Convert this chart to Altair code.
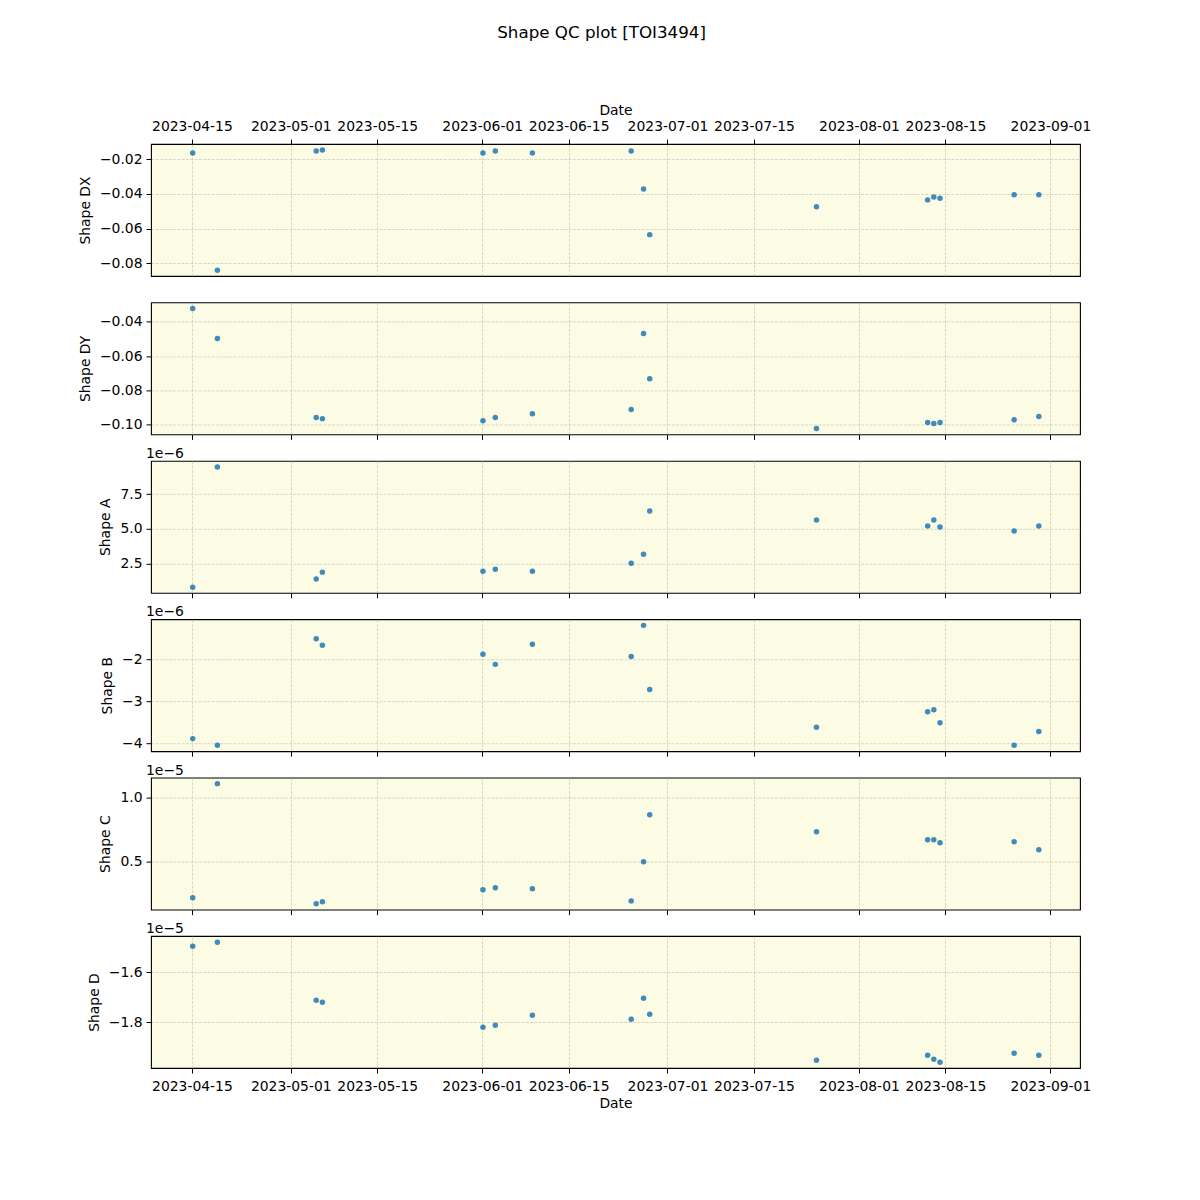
import altair as alt
import pandas as pd

# Observation dates (UTC)
dates = ["2023-04-15T03:00:00Z", "2023-04-19T03:00:00Z", "2023-05-05T03:00:00Z", "2023-05-06T03:00:00Z",
         "2023-06-01T03:00:00Z", "2023-06-03T03:00:00Z", "2023-06-09T03:00:00Z", "2023-06-25T03:00:00Z",
         "2023-06-27T03:00:00Z", "2023-06-28T03:00:00Z", "2023-07-25T03:00:00Z", "2023-08-12T03:00:00Z",
         "2023-08-13T03:00:00Z", "2023-08-14T03:00:00Z", "2023-08-26T03:00:00Z", "2023-08-30T03:00:00Z"]

shape_dx = [-0.0165, -0.0840, -0.0154, -0.0148, -0.0165, -0.0154, -0.0165, -0.0154,
            -0.0373, -0.0635, -0.0475, -0.0435, -0.0419, -0.0425, -0.0406, -0.0406]
shape_dy = [-0.0322, -0.0497, -0.0959, -0.0965, -0.0977, -0.0959, -0.0936, -0.0912,
            -0.0468, -0.0732, -0.1023, -0.0988, -0.0994, -0.0988, -0.0971, -0.0953]
# Shape A in units of 1e-6
shape_a = [0.83, 9.43, 1.41, 1.91, 1.98, 2.12, 1.98, 2.55, 3.19, 6.29, 5.64, 5.21, 5.64, 5.14, 4.86, 5.21]
# Shape B in units of 1e-6
shape_b = [-3.89, -4.05, -1.51, -1.665, -1.88, -2.12, -1.64, -1.93,
           -1.19, -2.72, -3.62, -3.25, -3.20, -3.51, -4.05, -3.72]
# Shape C in units of 1e-5
shape_c = [0.219, 1.109, 0.172, 0.188, 0.281, 0.297, 0.289, 0.195,
           0.500, 0.867, 0.734, 0.672, 0.672, 0.648, 0.656, 0.594]
# Shape D in units of 1e-5
shape_d = [-1.496, -1.480, -1.712, -1.720, -1.820, -1.812, -1.772, -1.788,
           -1.704, -1.768, -1.952, -1.932, -1.948, -1.960, -1.924, -1.932]

x_ticks = ["2023-04-15", "2023-05-01", "2023-05-15", "2023-06-01", "2023-06-15",
           "2023-07-01", "2023-07-15", "2023-08-01", "2023-08-15", "2023-09-01"]

df = pd.DataFrame({"date": dates, "dx": shape_dx, "dy": shape_dy, "a": shape_a,
                   "b": shape_b, "c": shape_c, "d": shape_d})

FONT = "DejaVu Sans"
FS = 13.9
W, H = 929, 132

def dt(s, h=0):
    y, m, d = (int(v) for v in s.split("-"))
    return alt.DateTime(year=y, month=m, date=d, hours=h, utc=True)

x_domain = [alt.DateTime(year=2023, month=4, date=8, hours=9, utc=True),
            alt.DateTime(year=2023, month=9, date=5, hours=19, utc=True)]
tick_vals = [dt(s) for s in x_ticks]

panels = [
    ("dx", "Shape DX", [-0.0873, -0.01135], [-0.08, -0.06, -0.04, -0.02], ".2f", None),
    ("dy", "Shape DY", [-0.1057, -0.0287], [-0.10, -0.08, -0.06, -0.04], ".2f", None),
    ("a", "Shape A", [0.43, 9.88], [2.5, 5.0, 7.5], ".1f", "1e\u22126"),
    ("b", "Shape B", [-4.19, -1.043], [-4, -3, -2], "d", "1e\u22126"),
    ("c", "Shape C", [0.127, 1.156], [0.5, 1.0], ".1f", "1e\u22125"),
    ("d", "Shape D", [-1.983, -1.455], [-1.8, -1.6], ".1f", "1e\u22125"),
]

charts = []
n = len(panels)
for i, (field, label, ydom, yticks, yfmt, offset_txt) in enumerate(panels):
    common = dict(values=tick_vals, labelExpr="utcFormat(datum.value, '%Y-%m-%d')", grid=True,
                  gridDash=[3, 1.3], gridColor="#b0b0b0", gridOpacity=0.6, gridWidth=0.8,
                  tickColor="black", tickSize=5, tickWidth=1, domain=False,
                  labelFont=FONT, labelFontSize=FS, labelColor="black",
                  titleFont=FONT, titleFontSize=FS, titleFontWeight="normal", titleColor="black",
                  labelFlush=False, labelOverlap=False)
    if i == 0:
        xaxis = alt.Axis(orient="top", title="Date", labelPadding=6, titlePadding=2, **common)
    elif i == n - 1:
        xaxis = alt.Axis(orient="bottom", title="Date", labelPadding=6, titlePadding=4, **common)
    else:
        xaxis = alt.Axis(orient="bottom", title=None, labels=False, **common)
    yaxis = alt.Axis(values=yticks, format=yfmt, grid=True, gridDash=[3, 1.3], gridColor="#b0b0b0",
                     gridOpacity=0.6, gridWidth=0.8, tickColor="black", tickSize=5, tickWidth=1,
                     domain=False, labelFont=FONT, labelFontSize=FS, labelColor="black", labelPadding=4,
                     title=label, titleFont=FONT, titleFontSize=FS, titleFontWeight="normal",
                     titleColor="black", titlePadding=7, labelFlush=False)
    ch = alt.Chart(df).mark_circle(size=30, color="#1f77b4", opacity=0.85).encode(
        x=alt.X("date:T", axis=xaxis, scale=alt.Scale(type="utc", domain=x_domain, nice=False)),
        y=alt.Y(f"{field}:Q", axis=yaxis, scale=alt.Scale(domain=ydom, nice=False, zero=False)),
    ).properties(width=W, height=H)
    if offset_txt:
        ch = ch.properties(title=alt.TitleParams(text=offset_txt, anchor="start", frame="group",
                                                 font=FONT, fontSize=FS, fontWeight="normal",
                                                 color="black", offset=0, dx=-5))
    charts.append(ch)

chart = alt.vconcat(*charts, spacing=26.4, bounds="flush").properties(
    title=alt.TitleParams(text="Shape QC plot [TOI3494]", font=FONT, fontSize=16.7,
                          fontWeight="normal", color="black", anchor="middle", offset=61, dx=17),
    padding={"left": 77, "top": 24, "right": 10, "bottom": 10},
).configure_view(fill="#fcfbe3", stroke="black", strokeWidth=1.1)

chart.save("out.html", embed_options={"renderer": "svg", "actions": False})
